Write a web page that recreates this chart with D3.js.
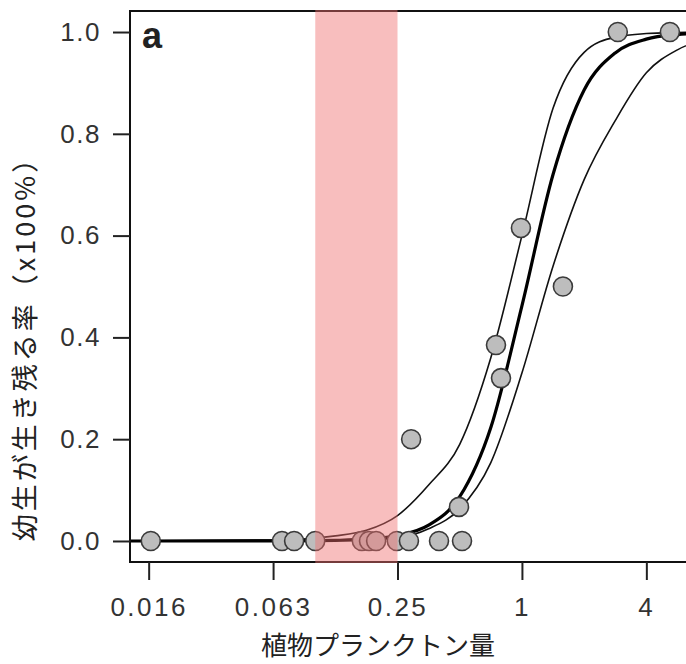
<!DOCTYPE html>
<html>
<head>
<meta charset="utf-8">
<script src="https://cdn.jsdelivr.net/npm/d3@7"></script>
<style>
  html, body { margin: 0; padding: 0; background: #fff; }
  svg { display: block; }
</style>
</head>
<body>
<svg id="chart" width="686" height="664"></svg>
<script>
// ---- data ----
const xTickValues = [0.015625, 0.0625, 0.25, 1, 4];
const xTickLabels = ["0.016", "0.063", "0.25", "1", "4"];
const yTickValues = [0, 0.2, 0.4, 0.6, 0.8, 1.0];
const yTickLabels = ["0.0", "0.2", "0.4", "0.6", "0.8", "1.0"];

// observed larval survival (phytoplankton amount, survival rate)
const pointX = [0.016, 0.069, 0.079, 0.1, 0.168, 0.182, 0.197, 0.248, 0.284, 0.291, 0.397, 0.496, 0.513, 0.749, 0.792, 0.989, 1.579, 2.91, 5.2];
const pointY = [0, 0, 0, 0, 0, 0, 0, 0, 0, 0.2, 0, 0.067, 0, 0.385, 0.32, 0.615, 0.5, 1, 1];

// fitted curve (thick) and its confidence limits (thin)
const curveX     = [0.0127, 0.0625, 0.1015, 0.125, 0.1768, 0.25, 0.3536, 0.5, 0.7071, 1, 1.4142, 2, 2.8284, 4, 5.6569, 9.19];
const fitY       = [0, 0.0001, 0.0006, 0.0012, 0.0035, 0.0105, 0.031, 0.087, 0.223, 0.462, 0.72, 0.886, 0.959, 0.986, 0.995, 0.999];
const upperY     = [0, 0.002, 0.006, 0.010, 0.021, 0.050, 0.11, 0.19, 0.36, 0.60, 0.85, 0.96, 0.99, 0.997, 0.999, 1.0];
const lowerY     = [0, 0, 0.0002, 0.0005, 0.002, 0.006, 0.024, 0.063, 0.154, 0.33, 0.54, 0.71, 0.826, 0.92, 0.965, 0.99];

// highlighted range of phytoplankton
const bandRange = [0.1, 0.25];

const panelLabel = "a";
const xTitle = "植物プランクトン量";
const yTitle = "幼生が生き残る率（x100%）";

// ---- layout ----
const svg = d3.select("#chart");
const plotLeft = 130, plotRight = 721, plotTop = 11, plotBottom = 562;

const x = d3.scaleLog().base(2)
  .domain([Math.pow(2, -6.3), Math.pow(2, 3.2)])
  .range([plotLeft, plotRight]);
const y = d3.scaleLinear()
  .domain([-0.0413, 1.0413])
  .range([plotBottom, plotTop]);

const numFont = "'Liberation Sans', Arial, Helvetica, sans-serif";
const cjkFont = "'Noto Sans CJK JP', 'Noto Sans', sans-serif";

// curves
const line = d3.line()
  .x((d) => x(d[0]))
  .y((d) => y(d[1]))
  .curve(d3.curveMonotoneX);

const g = svg.append("g");
[upperY, lowerY].forEach((ys) => {
  g.append("path")
    .attr("d", line(curveX.map((v, i) => [v, ys[i]])))
    .attr("fill", "none")
    .attr("stroke", "#111")
    .attr("stroke-width", 1.6);
});
g.append("path")
  .attr("d", line(curveX.map((v, i) => [v, fitY[i]])))
  .attr("fill", "none")
  .attr("stroke", "#000")
  .attr("stroke-width", 3.2);

// points
g.selectAll("circle.pt")
  .data(pointX.map((v, i) => [v, pointY[i]]))
  .join("circle")
  .attr("class", "pt")
  .attr("cx", (d) => x(d[0]))
  .attr("cy", (d) => y(d[1]))
  .attr("r", 9.5)
  .attr("fill", "#bdbdbd")
  .attr("stroke", "#3a3a3a")
  .attr("stroke-width", 1.6);

// frame
svg.append("rect")
  .attr("x", plotLeft).attr("y", plotTop)
  .attr("width", plotRight - plotLeft).attr("height", plotBottom - plotTop)
  .attr("fill", "none")
  .attr("stroke", "#111")
  .attr("stroke-width", 2);

// axes
const yAxis = d3.axisLeft(y)
  .tickValues(yTickValues)
  .tickFormat((d, i) => yTickLabels[i])
  .tickSize(17)
  .tickPadding(12);
const gy = svg.append("g").attr("transform", `translate(${plotLeft},0)`).call(yAxis);
gy.select(".domain").remove();
gy.selectAll(".tick line").attr("stroke", "#222").attr("stroke-width", 2);
gy.selectAll(".tick text")
  .attr("font-family", numFont)
  .attr("font-size", 26)
  .attr("letter-spacing", "1.5px")
  .attr("fill", "#333");

const xAxis = d3.axisBottom(x)
  .tickValues(xTickValues)
  .tickFormat((d, i) => xTickLabels[i])
  .tickSize(18)
  .tickPadding(18);
const gx = svg.append("g").attr("transform", `translate(0,${plotBottom})`).call(xAxis);
gx.select(".domain").remove();
gx.selectAll(".tick line").attr("stroke", "#222").attr("stroke-width", 2);
gx.selectAll(".tick text")
  .attr("font-family", numFont)
  .attr("font-size", 26)
  .attr("letter-spacing", "2.5px")
  .attr("fill", "#333");

// highlighted band (drawn on top, translucent)
svg.append("rect")
  .attr("x", x(bandRange[0]))
  .attr("y", plotTop - 1)
  .attr("width", x(bandRange[1]) - x(bandRange[0]))
  .attr("height", plotBottom - plotTop + 2)
  .attr("fill", "rgba(240,110,110,0.45)");

// panel label
svg.append("text")
  .attr("x", 142).attr("y", 48)
  .attr("font-family", numFont)
  .attr("font-weight", "bold")
  .attr("font-size", 36)
  .attr("fill", "#222")
  .text(panelLabel);

// titles
svg.append("text")
  .attr("x", 378).attr("y", 655)
  .attr("text-anchor", "middle")
  .attr("font-family", cjkFont)
  .attr("font-size", 26)
  .attr("fill", "#222")
  .text(xTitle);

svg.append("text")
  .attr("transform", "translate(35,342) rotate(-90)")
  .attr("text-anchor", "middle")
  .attr("font-family", cjkFont)
  .attr("font-size", 27)
  .attr("letter-spacing", "3px")
  .attr("fill", "#222")
  .text(yTitle);
</script>
</body>
</html>
